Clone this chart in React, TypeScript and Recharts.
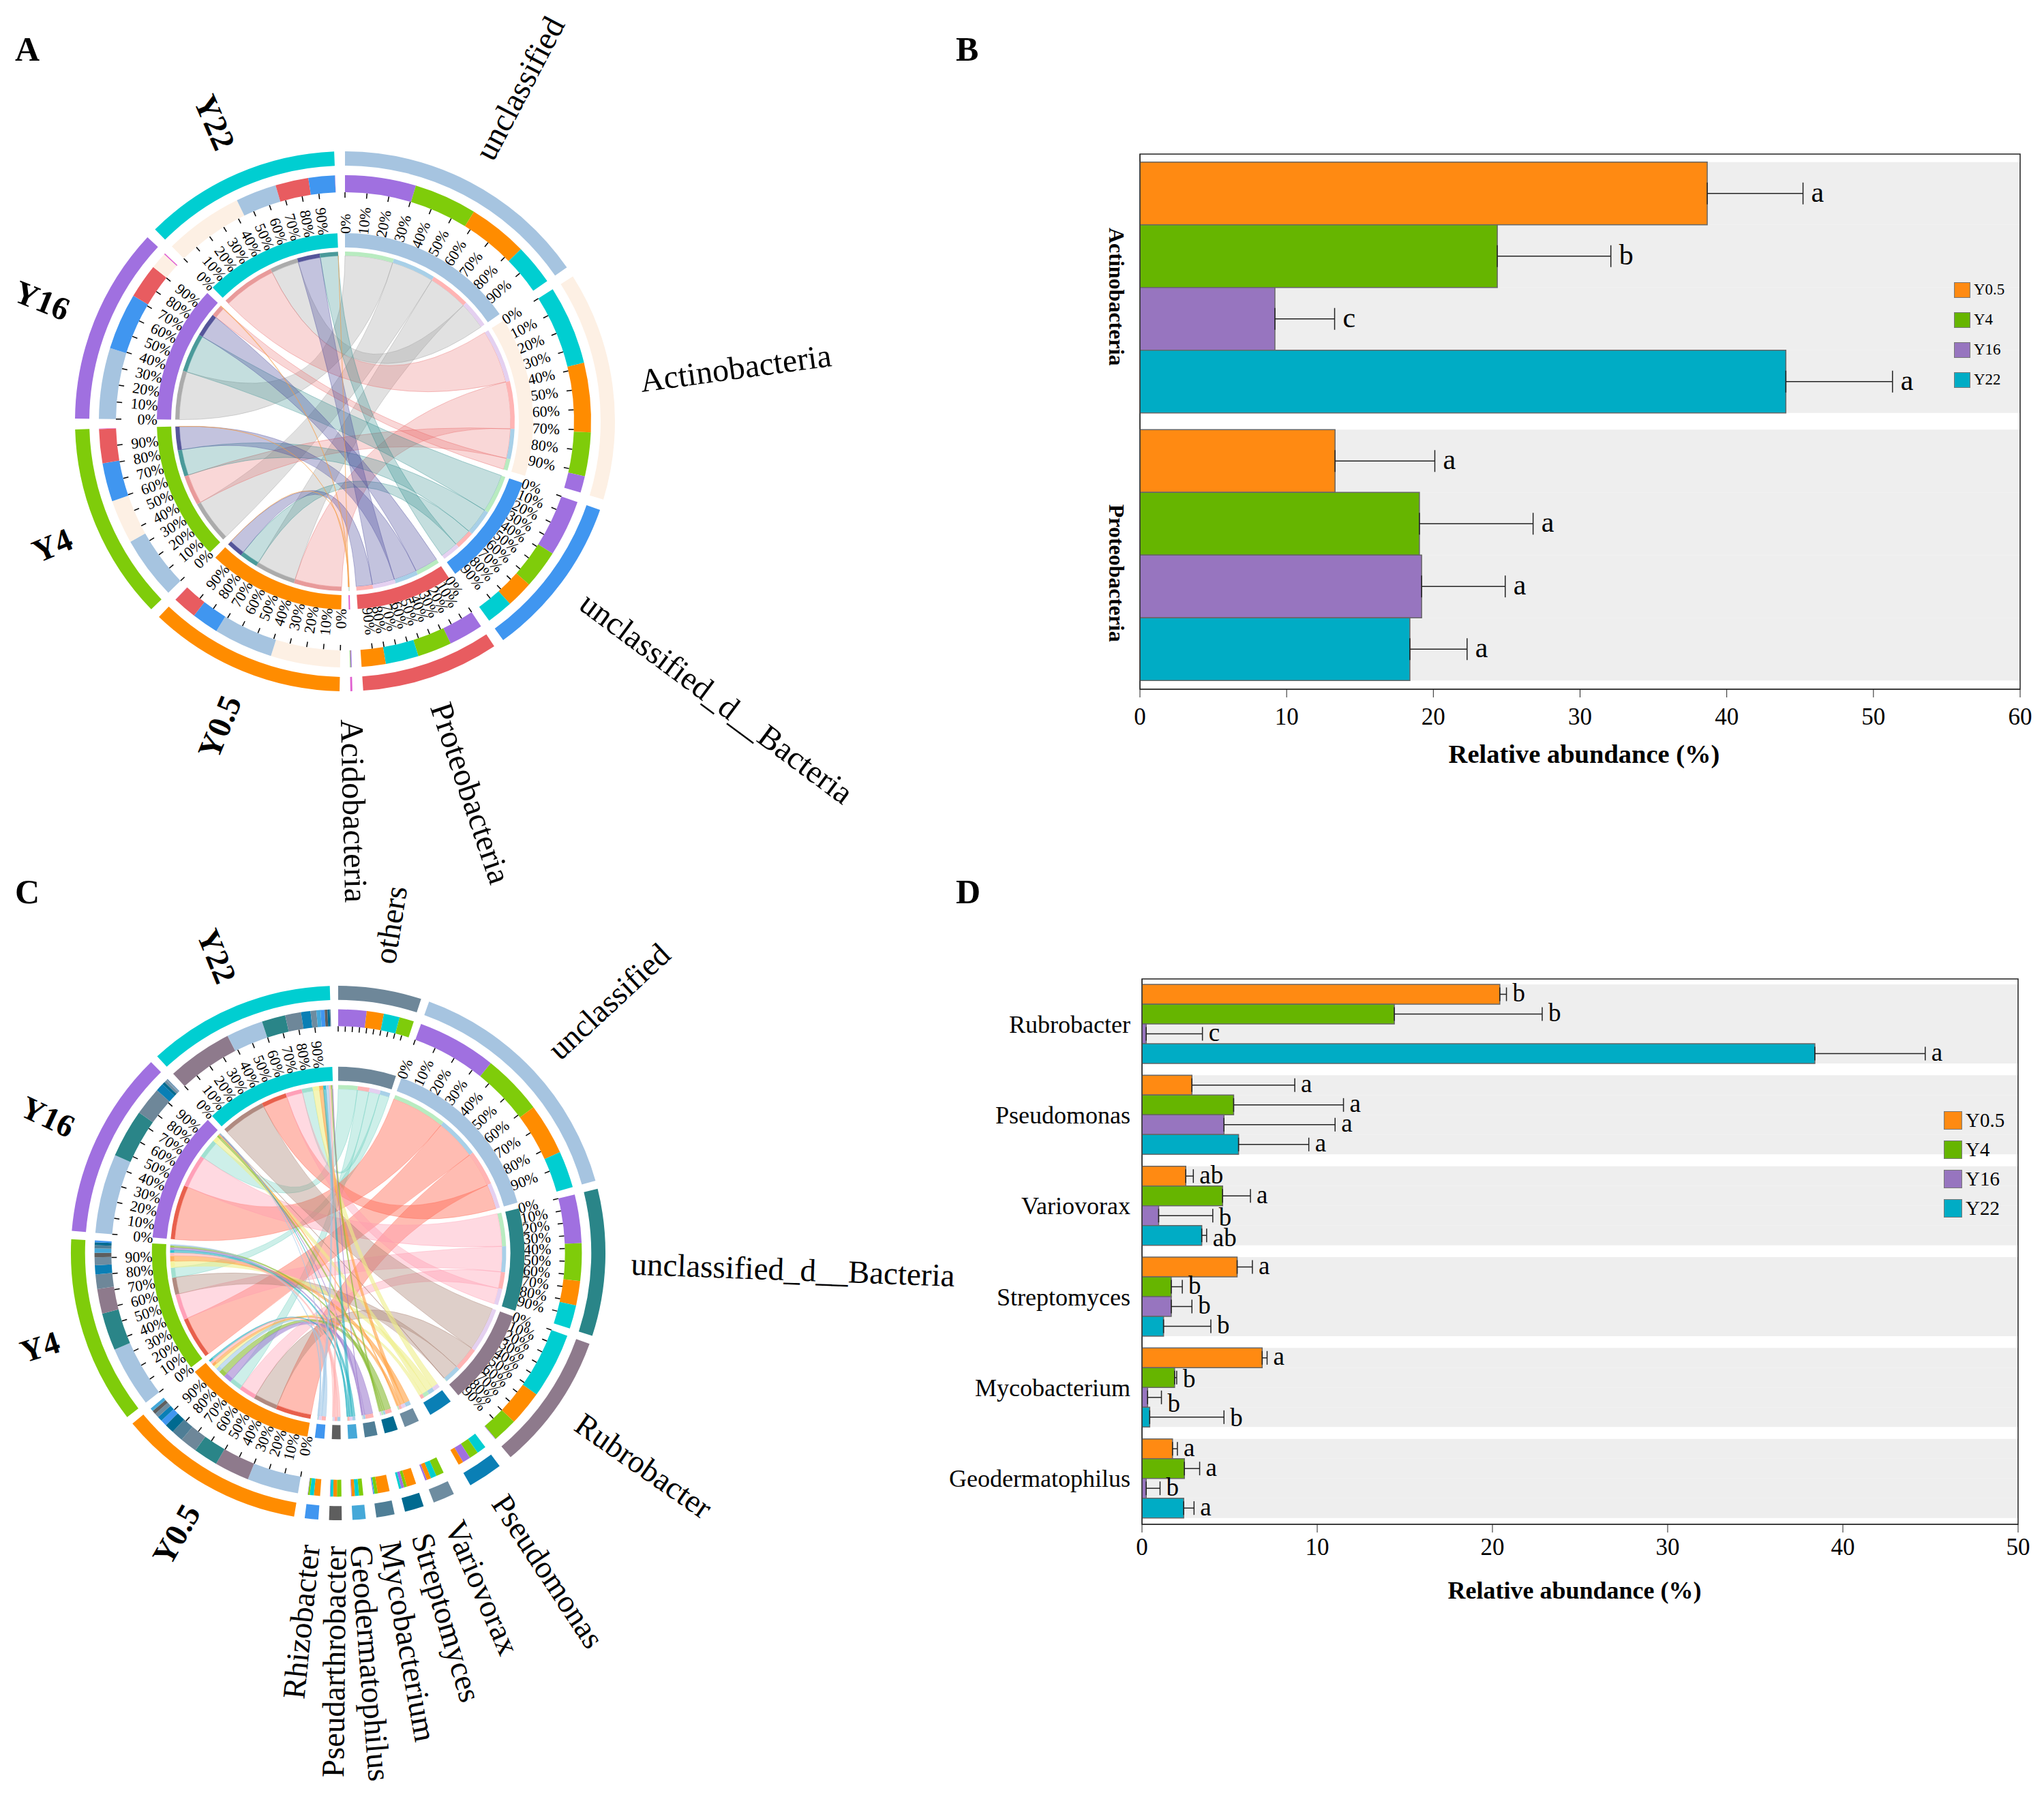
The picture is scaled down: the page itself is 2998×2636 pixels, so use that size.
import { Bar, BarChart, Cell, Customized, ErrorBar, LabelList, Legend, Pie, PieChart, ReferenceArea, XAxis, YAxis } from "recharts";

const SERIF = "'Liberation Serif', serif";

// chord A: share (%) of each taxon in each sample
const taxaA = ["unclassified", "Actinobacteria", "unclassified_d__Bacteria", "Proteobacteria", "Acidobacteria"];
const aY05 = [33, 38.6, 14.9, 13.4, 0.1];
const aY4 = [35, 24.4, 21.4, 19, 0.2];
const aY16 = [39.5, 9.2, 31.5, 19.2, 0.6];
const aY22 = [22.8, 44, 14.7, 18.4, 0.1];

// chord C
const taxaC = ["others", "unclassified", "unclassified_d__Bacteria", "Rubrobacter", "Pseudomonas", "Variovorax", "Streptomyces", "Mycobacterium", "Geodermatophilus", "Pseudarthrobacter", "Rhizobacter"];
const cY05 = [10, 30, 14.2, 20.4, 2.9, 2.5, 5.5, 6.9, 1.8, 2.2, 3.6];
const cY4 = [8.5, 35.5, 22, 14.4, 5.3, 4.6, 1.7, 1.9, 2.5, 2.6, 1];
const cY16 = [16.5, 46.3, 28.3, 0.3, 4.7, 1, 1.7, 0.4, 0.3, 0.3, 0.2];
const cY22 = [9.3, 21.5, 13.8, 38.3, 5.5, 3.4, 1.3, 0.5, 2.4, 1.6, 2.4];

const samples = ["Y0.5", "Y4", "Y16", "Y22"];
const pctTicks = [0, 10, 20, 30, 40, 50, 60, 70, 80, 90];

// bars B
const catsB = ["Actinobacteria", "Proteobacteria"];
const bY05 = [38.67, 13.3];
const bY4 = [24.36, 19.05];
const bY16 = [9.2, 19.2];
const bY22 = [44.03, 18.4];
const bErrY05 = [6.53, 6.8];
const bErrY4 = [7.74, 7.75];
const bErrY16 = [4.07, 5.7];
const bErrY22 = [7.27, 3.9];
const bLetY05 = ["a", "a"];
const bLetY4 = ["b", "a"];
const bLetY16 = ["c", "a"];
const bLetY22 = ["a", "a"];
const ticksB = [0, 10, 20, 30, 40, 50, 60];

// bars D
const catsD = ["Rubrobacter", "Pseudomonas", "Variovorax", "Streptomyces", "Mycobacterium", "Geodermatophilus"];
const dY05 = [20.42, 2.85, 2.5, 5.43, 6.86, 1.74];
const dY4 = [14.4, 5.23, 4.6, 1.67, 1.86, 2.42];
const dY16 = [0.24, 4.68, 0.95, 1.67, 0.32, 0.24];
const dY22 = [38.4, 5.51, 3.41, 1.23, 0.44, 2.38];
const dErrY05 = [0.38, 5.87, 0.43, 0.87, 0.28, 0.28];
const dErrY4 = [8.44, 6.27, 1.59, 0.63, 0.12, 0.87];
const dErrY16 = [3.21, 6.34, 3.09, 1.18, 0.79, 0.79];
const dErrY22 = [6.3, 4.01, 0.28, 2.7, 4.24, 0.59];
const dLetY05 = ["b", "a", "ab", "a", "a", "a"];
const dLetY4 = ["b", "a", "a", "b", "b", "a"];
const dLetY16 = ["c", "a", "b", "b", "b", "b"];
const dLetY22 = ["a", "a", "ab", "b", "b", "a"];
const ticksD = [0, 10, 20, 30, 40, 50];

const barColors = ["#FF8A12", "#66B500", "#9775BF", "#00ACC5"];
const sampleRing = ["#FF8C00", "#7FCC0A", "#A070E0", "#00CED1"];
const sampleStrip = ["#FFB4B4", "#A8D0E8", "#B8EBC0", "#E4D0F0"];

const styleA = {
  ring: ["#A6C4E0", "#FDF0E4", "#4096F0", "#E85C60", "#E060D0"],
  ribbon: ["#9A9A9A", "#E86A6A", "#2A8A8A", "#4A4A9A", "#F5A04C"],
  ribbonOpacity: [0.3, 0.27, 0.28, 0.33, 0.5],
  strip: ["#ABABAB", "#E89A9A", "#4A9A9A", "#55559A", "#F5A04C"],
};
const styleC = {
  ring: ["#6E8799", "#A6C4E0", "#2A8588", "#8E7A8C", "#0A7FB5", "#6E8CA0", "#006A90", "#4F7E96", "#45A8D8", "#5E5E5E", "#4096F0"],
  ribbon: ["#70D0C0", "#FF6A55", "#FF9AB0", "#A88070", "#EEEE88", "#FFA040", "#88BB33", "#A080D0", "#20B0C0", "#FFB0B0", "#A0C8E8"],
  ribbonOpacity: [0.35, 0.45, 0.38, 0.38, 0.6, 0.6, 0.6, 0.6, 0.6, 0.6, 0.6],
  strip: ["#A0E0D0", "#E8604C", "#FFA0B8", "#B08A80", "#F4F4A0", "#FFB060", "#A0CC50", "#B090E0", "#30C0D0", "#FFC0C0", "#B0D4F0"],
};
// degrees left open after each sector, clockwise from the top
const gapsA = [2.3, 2.3, 2.3, 2.3, 2.3, 2.3, 2.3, 2.3, 2.3];
const gapsC = [1.8, 1.8, 1.8, 3, 4, 2.3, 2.3, 2.3, 2.3, 2.3, 2.3, 1.8, 1.8, 1.8, 1.8];

// a few letters in D sit lower than their bar
const letterNudgeD: Record<string, number> = { "2-2": 4, "2-3": 5, "4-1": 4, "4-2": 11, "4-3": 3 };
const catShiftB = [13, 26];

type Link = { sample: number; taxon: number; value: number; start: number; end: number };

function sum(a: number[]) {
  return a.reduce((t, v) => t + v, 0);
}

function buildChord(taxa: string[], matrix: number[][], gaps: number[], style: any) {
  const taxonTotals = taxa.map((_, t) => sum(matrix.map((row) => row[t])));
  const units = sum(taxonTotals) + sum(matrix.map(sum));
  const perUnit = (360 - sum(gaps)) / units;

  const order = [
    ...taxa.map((name, t) => ({ name, taxon: t, sample: -1 })),
    ...samples.map((name, s) => ({ name, taxon: -1, sample: s })),
  ];
  const taxonSide: Record<string, Link> = {};
  const sampleSide: Record<string, Link> = {};
  let cursor = 0;
  const sectors = order.map((sec, idx) => {
    const isTaxon = sec.taxon >= 0;
    const parts = isTaxon
      ? matrix.map((row, s) => ({ sample: s, taxon: sec.taxon, value: row[sec.taxon] }))
      : matrix[sec.sample].map((v, t) => ({ sample: sec.sample, taxon: t, value: v }));
    parts.sort((a, b) => b.value - a.value);
    const start = cursor;
    const links = parts.map((p) => {
      const link = { ...p, start: cursor, end: cursor + p.value * perUnit };
      cursor = link.end;
      (isTaxon ? taxonSide : sampleSide)[p.sample + "-" + p.taxon] = link;
      return link;
    });
    const span = cursor - start;
    cursor += gaps[idx];
    return { ...sec, isTaxon, links, start, span, total: sum(parts.map((p) => p.value)), spacer: gaps[idx] / perUnit };
  });

  const outerRows: any[] = [];
  const midRows: any[] = [];
  const innerRows: any[] = [];
  const stripRows: any[] = [];
  sectors.forEach((sec) => {
    const color = sec.isTaxon ? style.ring[sec.taxon] : sampleRing[sec.sample];
    outerRows.push({ value: sec.total, fill: color });
    innerRows.push({ value: sec.total, fill: color });
    sec.links.forEach((l) => {
      midRows.push({ value: l.value, fill: sec.isTaxon ? sampleRing[l.sample] : style.ring[l.taxon] });
      stripRows.push({ value: l.value, fill: sec.isTaxon ? sampleStrip[l.sample] : style.strip[l.taxon] });
    });
    [outerRows, innerRows, midRows, stripRows].forEach((rows) => rows.push({ value: sec.spacer, fill: "none" }));
  });
  return { sectors, taxonSide, sampleSide, outerRows, midRows, innerRows, stripRows };
}

function ChordPanel({ taxa, matrix, style, gaps, cx, cy, scale, left, top, width, height, labelSize, labelR }: any) {
  const chord = buildChord(taxa, matrix, gaps, style);
  const r = (v: number) => v * scale;
  const pt = (deg: number, rad: number) => {
    const a = (deg * Math.PI) / 180;
    return [cx + rad * Math.sin(a), cy - rad * Math.cos(a)];
  };
  const ring = (rows: any[], inner: number, outer: number) => (
    <Pie data={rows} dataKey="value" cx={cx} cy={cy} innerRadius={r(inner)} outerRadius={r(outer)} startAngle={90} endAngle={-270} stroke="none" isAnimationActive={false}>
      {rows.map((row, i) => (
        <Cell key={i} fill={row.fill} stroke="none" />
      ))}
    </Pie>
  );
  const radial = (deg: number) => (deg < 180 ? { rot: deg - 90, anchor: "start" } : { rot: deg - 270, anchor: "end" });

  const ribbons = () => {
    const R = r(243);
    const out: any[] = [];
    taxa.forEach((_: string, t: number) => {
      samples.forEach((_s, s) => {
        const a = chord.sampleSide[s + "-" + t];
        const b = chord.taxonSide[s + "-" + t];
        const [a0x, a0y] = pt(a.start, R);
        const [a1x, a1y] = pt(a.end, R);
        const [b0x, b0y] = pt(b.start, R);
        const [b1x, b1y] = pt(b.end, R);
        const d = `M${a0x} ${a0y}A${R} ${R} 0 0 1 ${a1x} ${a1y}Q${cx} ${cy} ${b0x} ${b0y}A${R} ${R} 0 0 1 ${b1x} ${b1y}Q${cx} ${cy} ${a0x} ${a0y}Z`;
        out.push(<path key={s + "-" + t} d={d} fill={style.ribbon[t]} fillOpacity={style.ribbonOpacity[t]} stroke={style.ribbon[t]} strokeOpacity={0.4} strokeWidth={1} />);
      });
    });
    return <g>{out}</g>;
  };

  const scaleMarks = () => (
    <g fontFamily={SERIF}>
      {chord.sectors.map((sec) => {
        if (sec.span < 15) return null;
        return pctTicks.map((p) => {
          const deg = sec.start + (sec.span * p) / 100;
          const [x1, y1] = pt(deg, r(336));
          const [x2, y2] = pt(deg, r(328));
          const [tx, ty] = pt(deg, r(275));
          const { rot, anchor } = radial(deg);
          return (
            <g key={sec.name + p}>
              <line x1={x1} y1={y1} x2={x2} y2={y2} stroke="#000" strokeWidth={1.5} />
              {sec.span > 20 && (
                <text x={tx} y={ty} fontSize={22} textAnchor={anchor} dominantBaseline="central" transform={`rotate(${rot} ${tx} ${ty})`} fill="#000">
                  {p}%
                </text>
              )}
            </g>
          );
        });
      })}
    </g>
  );

  const names = () => (
    <g fontFamily={SERIF}>
      {chord.sectors.map((sec) => {
        const mid = sec.start + sec.span / 2;
        const [x, y] = pt(mid, labelR);
        const { rot, anchor } = radial(mid);
        return (
          <text key={sec.name} x={x} y={y} fontSize={labelSize} fontWeight={sec.isTaxon ? "normal" : "bold"} textAnchor={anchor} dominantBaseline="central" transform={`rotate(${rot} ${x} ${y})`} fill="#000">
            {sec.name}
          </text>
        );
      })}
    </g>
  );

  return (
    <div style={{ position: "absolute", left, top }}>
      <PieChart width={width} height={height} margin={{ top: 0, right: 0, bottom: 0, left: 0 }}>
        {ring(chord.outerRows, 375, 396)}
        {ring(chord.midRows, 336, 361)}
        {ring(chord.innerRows, 255, 276)}
        {ring(chord.stripRows, 243, 249)}
        <Customized component={ribbons} />
        <Customized component={scaleMarks} />
        <Customized component={names} />
      </PieChart>
    </div>
  );
}

function AbundancePanel({ cats, values, errs, letters, ticks, domainMax, left, top, width, height, margin, axisWidth, axisHeight, gapPct, capWidth, letterSize, labelOffset, letterNudge, titleSize, titleOffset, titleDx, tickMargin, rotatedCats, catSize, catOffset, catShift, legendBox, legendRow, legendSwatch, legendFont }: any) {
  const keys = ["y05", "y4", "y16", "y22"];
  const rows = cats.map((name: string, i: number) => {
    const row: any = { name };
    keys.forEach((k, s) => {
      row[k] = values[s][i];
      row[k + "Err"] = errs[s][i];
      row[k + "Let"] = letters[s][i];
    });
    return row;
  });
  const plotWidth = width - margin.right - axisWidth;
  const pxPerUnit = plotWidth / domainMax;

  const catTick = ({ x, y, index, payload }: any) => {
    if (rotatedCats) {
      const tx = x - catOffset;
      const ty = y + catShift[index];
      return (
        <text x={tx} y={ty} fontFamily={SERIF} fontSize={catSize} fontWeight="bold" textAnchor="middle" dominantBaseline="central" transform={`rotate(90 ${tx} ${ty})`} fill="#000">
          {payload.value}
        </text>
      );
    }
    return (
      <text x={x - catOffset} y={y} fontFamily={SERIF} fontSize={catSize} textAnchor="end" dominantBaseline="central" fill="#000">
        {payload.value}
      </text>
    );
  };

  const legendContent = ({ payload }: any) => (
    <div style={{ fontFamily: SERIF, fontSize: legendFont, color: "#000" }}>
      {(payload || []).map((item: any) => (
        <div key={item.value} style={{ display: "flex", alignItems: "center", height: legendRow }}>
          <span style={{ display: "inline-block", width: legendSwatch[0], height: legendSwatch[1], background: item.color, border: "1px solid #777", boxSizing: "border-box", marginRight: 5 }} />
          {item.value}
        </div>
      ))}
    </div>
  );

  return (
    <div style={{ position: "absolute", left, top }}>
      <BarChart width={width} height={height} data={rows} layout="vertical" margin={margin} barGap={0} barCategoryGap={gapPct}>
        <XAxis
          type="number"
          domain={[0, domainMax]}
          ticks={ticks}
          height={axisHeight}
          stroke="#222"
          tickSize={12}
          tickMargin={tickMargin}
          tick={{ fontFamily: SERIF, fontSize: 35, fill: "#000" }}
          label={{ value: "Relative abundance (%)", position: "insideBottom", offset: titleOffset, dx: titleDx, style: { fontFamily: SERIF, fontSize: titleSize, fontWeight: "bold", fill: "#000" } }}
        />
        <YAxis type="category" dataKey="name" width={axisWidth} stroke="#222" tickLine={false} tick={catTick} interval={0} />
        {keys.map((k, s) => (
          <Bar key={k} dataKey={k} name={samples[s]} fill={barColors[s]} stroke="#666" strokeWidth={1.5} background={{ fill: "#EEEEEE", stroke: "none" }} isAnimationActive={false}>
            <ErrorBar dataKey={(row: any) => [0, row[k + "Err"]]} direction="x" width={capWidth} stroke="#222" strokeWidth={1.5} isAnimationActive={false} />
            <LabelList
              dataKey={k + "Let"}
              content={({ x, y, width: w, height: h, value, index }: any) => (
                <text x={x + w + errs[s][index] * pxPerUnit + labelOffset} y={y + h / 2 - 2 + (letterNudge[index + "-" + s] || 0)} fontFamily={SERIF} fontSize={letterSize} dominantBaseline="central" fill="#000">
                  {value}
                </text>
              )}
            />
          </Bar>
        ))}
        <ReferenceArea x1={0} x2={domainMax} fill="none" stroke="#222" strokeWidth={1.5} />
        <Legend layout="vertical" align="center" verticalAlign="middle" itemSorter={null} wrapperStyle={legendBox} content={legendContent} />
      </BarChart>
    </div>
  );
}

const panelLetters = [
  { text: "A", x: 22, y: 91 },
  { text: "B", x: 1402, y: 91 },
  { text: "C", x: 22, y: 1327 },
  { text: "D", x: 1402, y: 1327 },
];

export default function App() {
  return (
    <div style={{ position: "absolute", left: 0, top: 0, width: 2998, height: 2636, background: "#fff", overflow: "hidden" }}>
      <ChordPanel taxa={taxaA} matrix={[aY05, aY4, aY16, aY22]} style={styleA} gaps={gapsA} cx={506} cy={618} scale={1} left={0} top={0} width={1400} height={1340} labelSize={48} labelR={437} />
      <ChordPanel taxa={taxaC} matrix={[cY05, cY4, cY16, cY22]} style={styleC} gaps={gapsC} cx={496} cy={568} scale={0.99} left={0} top={1270} width={1440} height={1366} labelSize={47} labelR={430} />
      <AbundancePanel
        cats={catsB}
        values={[bY05, bY4, bY16, bY22]}
        errs={[bErrY05, bErrY4, bErrY16, bErrY22]}
        letters={[bLetY05, bLetY4, bLetY16, bLetY22]}
        ticks={ticksB}
        domainMax={60}
        left={1400}
        top={200}
        width={1598}
        height={960}
        margin={{ top: 26, right: 35, bottom: 0, left: 0 }}
        axisWidth={272}
        axisHeight={149}
        gapPct="3%"
        capWidth={16}
        letterSize={42}
        labelOffset={12}
        letterNudge={{}}
        titleSize={38.5}
        titleOffset={41}
        titleDx={6}
        tickMargin={15}
        rotatedCats
        catSize={32}
        catOffset={26}
        catShift={catShiftB}
        legendBox={{ position: "absolute", left: 1466, top: 203, width: 120 }}
        legendRow={44}
        legendSwatch={[24, 23]}
        legendFont={23}
      />
      <AbundancePanel
        cats={catsD}
        values={[dY05, dY4, dY16, dY22]}
        errs={[dErrY05, dErrY4, dErrY16, dErrY22]}
        letters={[dLetY05, dLetY4, dLetY16, dLetY22]}
        ticks={ticksD}
        domainMax={50}
        left={1200}
        top={1400}
        width={1798}
        height={980}
        margin={{ top: 36, right: 38, bottom: 0, left: 0 }}
        axisWidth={475}
        axisHeight={144}
        gapPct="6%"
        capWidth={10}
        letterSize={37}
        labelOffset={9}
        letterNudge={letterNudgeD}
        titleSize={36}
        titleOffset={35}
        titleDx={-8}
        tickMargin={8}
        catSize={36}
        catOffset={9}
        legendBox={{ position: "absolute", left: 1651, top: 222, width: 120 }}
        legendRow={43}
        legendSwatch={[27, 27]}
        legendFont={29}
      />
      {panelLetters.map((p) => (
        <div key={p.text} style={{ position: "absolute", left: p.x, top: p.y - 44, fontFamily: SERIF, fontWeight: "bold", fontSize: 50, lineHeight: "50px", color: "#000" }}>
          {p.text}
        </div>
      ))}
    </div>
  );
}
